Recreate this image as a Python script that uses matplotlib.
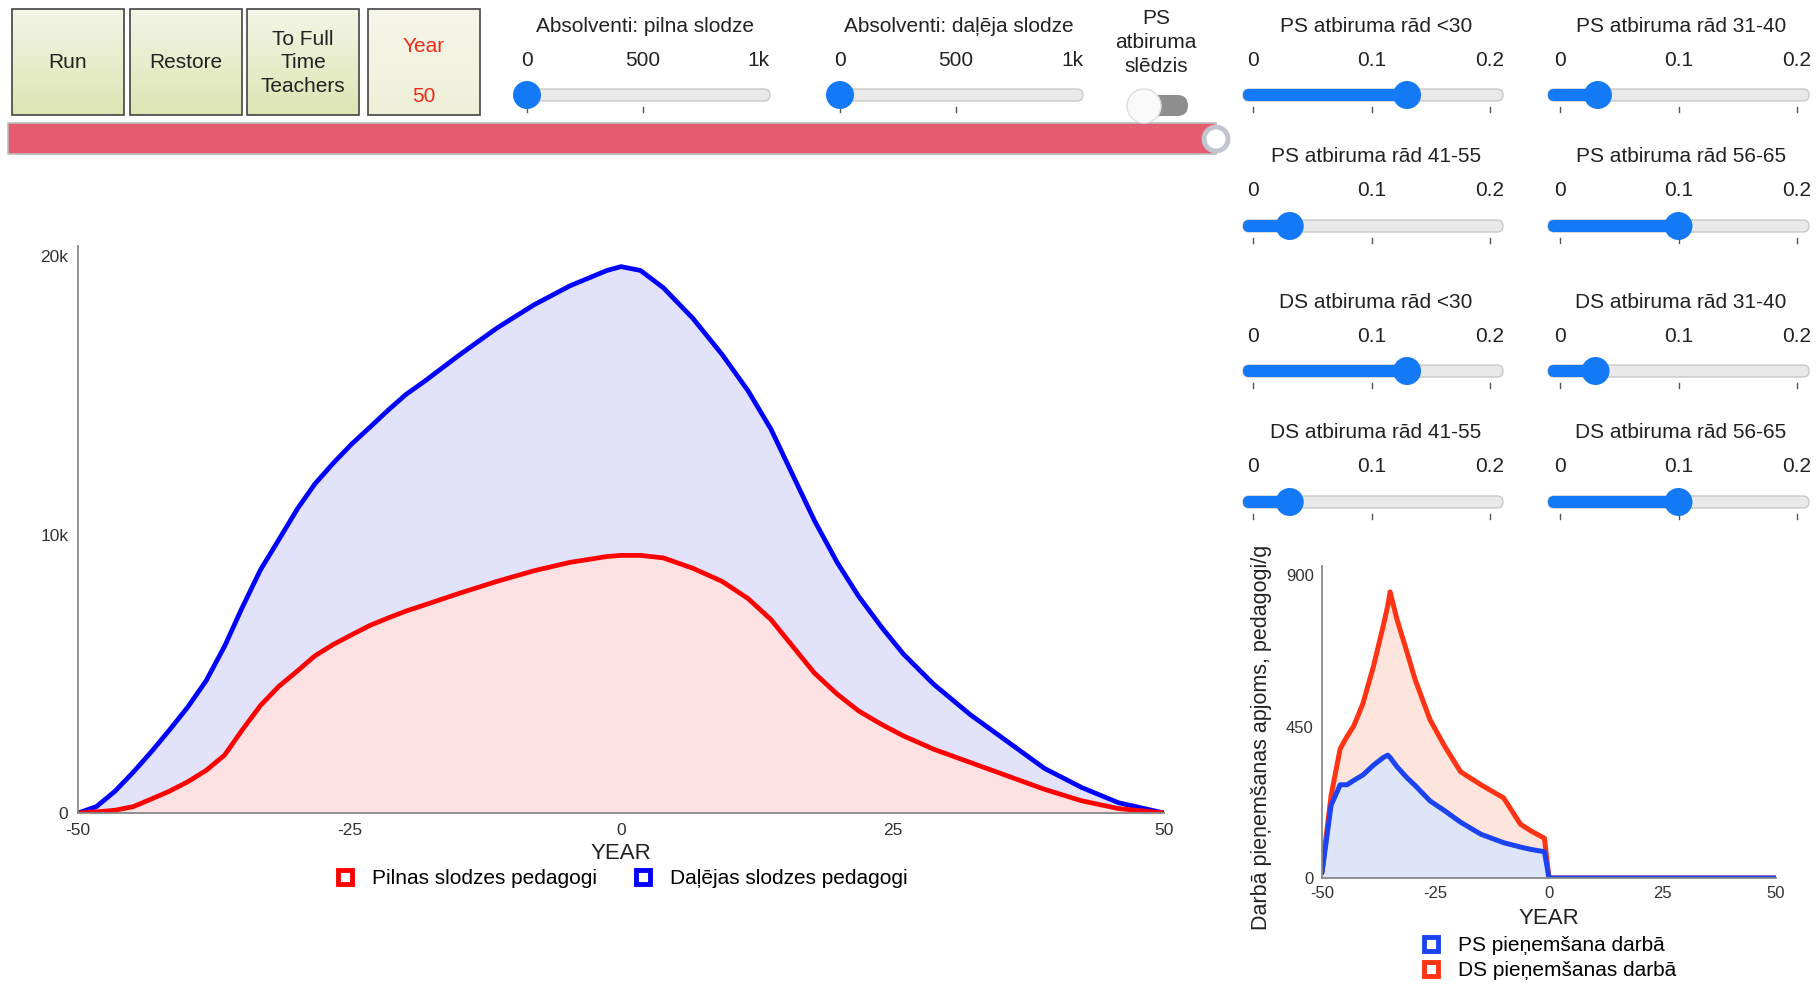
import numpy as np
import matplotlib
matplotlib.use("Agg")
import matplotlib.pyplot as plt
from matplotlib.patches import Rectangle, FancyBboxPatch, Circle
from matplotlib.lines import Line2D
from matplotlib.colors import LinearSegmentedColormap

plt.rcParams['font.family'] = ['Liberation Sans', 'DejaVu Sans']
plt.rcParams['axes.unicode_minus'] = False

# main chart data (teachers by year)
years = [-50, -48.3, -46.6, -44.9, -43.2, -41.6, -39.9, -38.2, -36.5, -34.9, -33.2, -31.5,
         -29.8, -28.2, -26.5, -24.8, -23.1, -21.4, -19.8, -18.1, -14.8, -11.4, -8.0, -4.7,
         -1.3, 0, 1.8, 3.9, 6.6, 9.3, 11.7, 13.8, 15.8, 17.8, 19.9, 21.9, 24.0, 26.0, 28.8,
         32.2, 35.6, 39.0, 42.4, 45.8, 50]
part_time = [0, 230, 780, 1470, 2220, 2970, 3800, 4750, 5990, 7360, 8730, 9820,
             10920, 11810, 12560, 13250, 13860, 14480, 15030, 15500, 16470, 17420, 18250, 18930,
             19480, 19620, 19480, 18860, 17770, 16470, 15160, 13790, 12150, 10510, 9000, 7770, 6670, 5710, 4620,
             3520, 2560, 1600, 920, 370, 0]
full_time = [0, 40, 100, 230, 510, 780, 1120, 1530, 2080, 2970, 3860, 4550,
             5100, 5640, 6050, 6400, 6740, 7010, 7250, 7470, 7900, 8320, 8700, 9000,
             9210, 9250, 9250, 9160, 8790, 8320, 7700, 6950, 5990, 5030, 4270, 3660, 3180, 2770, 2290,
             1810, 1330, 850, 440, 160, 0]

# hiring chart data
hire_years = [-50, -48, -46, -44.5, -43, -41, -38.7, -36.5, -35.5, -35, -33.5, -31.3, -29.5,
              -26.2, -23, -19.5, -15, -10, -6.3, -4, -1, 0, 50]
ps_hire = [15, 216, 277, 277, 290, 306, 335, 358, 365, 358, 331, 298, 275,
           229, 200, 166, 130, 105, 92, 85, 78, 0, 0]
ds_hire = [20, 245, 384, 420, 452, 518, 627, 750, 810, 850, 769, 672, 590,
           470, 392, 316, 277, 238, 160, 140, 118, 0, 0]

# controls
buttons = ["Run", "Restore", "To Full\nTime\nTeachers"]
year_value = 50
grad_titles = ["Absolventi: pilna slodze", "Absolventi: daļēja slodze"]
grad_values = [0, 0]
rate_titles = ["PS atbiruma rād <30", "PS atbiruma rād 31-40",
               "PS atbiruma rād 41-55", "PS atbiruma rād 56-65",
               "DS atbiruma rād <30", "DS atbiruma rād 31-40",
               "DS atbiruma rād 41-55", "DS atbiruma rād 56-65"]
rate_values = [0.13, 0.032, 0.031, 0.10, 0.13, 0.030, 0.031, 0.10]

W, H = 1816, 985
fig = plt.figure(figsize=(W / 100, H / 100), dpi=100)
fig.patch.set_facecolor('white')

ui = fig.add_axes([0, 0, 1, 1])
ui.set_xlim(0, W)
ui.set_ylim(H, 0)
ui.axis('off')
ui.set_zorder(0)

KNOB = '#1479f4'
TXT = '#222222'
FS = 15

# buttons
btn_cmap = LinearSegmentedColormap.from_list('btn', ['#f3f5e6', '#dde5b3'])
yr_cmap = LinearSegmentedColormap.from_list('yr', ['#f6f6ea', '#eff0d8'])
grad = np.linspace(0, 1, 50).reshape(-1, 1)
bx = [12, 130, 247, 368]
for i in range(4):
    x0, x1, y0, y1 = bx[i], bx[i] + 112, 9, 115
    ui.imshow(grad, cmap=btn_cmap if i < 3 else yr_cmap, extent=(x0, x1, y1, y0),
              origin='upper', aspect='auto', zorder=1)
    ui.add_patch(Rectangle((x0, y0), x1 - x0, y1 - y0, fill=False, ec='#444444', lw=1.2, zorder=2))
    if i < 3:
        ui.text((x0 + x1) / 2, 63, buttons[i], ha='center', va='center', fontsize=FS,
                color=TXT, linespacing=1.32, zorder=3)
ui.text(424, 44, "Year", ha='center', va='center_baseline', fontsize=FS, color='#ee2a1b', zorder=3)
ui.text(424, 95, str(year_value), ha='center', va='center_baseline', fontsize=FS, color='#ee2a1b', zorder=3)
ui.set_xlim(0, W)
ui.set_ylim(H, 0)

# progress bar
ui.add_patch(Rectangle((8, 123), 1208, 31, fc='#e55c70', ec='#bdbdbd', lw=1.2, zorder=2))
ui.add_patch(Circle((1216, 139), 12, fc='white', ec='#c2c5cf', lw=3.5, zorder=3))


def slider(title, xc, ty, labels, t0, t1, tx0, tx1, y, frac, tick_list):
    ui.text(xc, ty, title, ha='center', va='center_baseline', fontsize=FS, color=TXT)
    for lab, lx in zip(labels, [t0, (t0 + t1) / 2, t1]):
        ui.text(lx, ty + 34, lab, ha='center', va='center_baseline', fontsize=FS, color=TXT)
    ui.add_patch(FancyBboxPatch((tx0, y - 6), tx1 - tx0, 12,
                                boxstyle='round,pad=0,rounding_size=6',
                                fc='#e9e9e9', ec='#c9c9c9', lw=1, zorder=2))
    kx = t0 + frac * (t1 - t0)
    ui.add_patch(FancyBboxPatch((tx0, y - 6), kx - tx0, 12,
                                boxstyle='round,pad=0,rounding_size=6',
                                fc=KNOB, ec='none', zorder=3))
    for f in tick_list:
        xx = t0 + f * (t1 - t0)
        ui.plot([xx, xx], [y + 12, y + 17], color='#555555', lw=1, zorder=1)
    ui.add_patch(Circle((kx, y), 14, fc=KNOB, ec='none', zorder=4))


# graduate sliders
slider(grad_titles[0], 645, 24, ["0", "500", "1k"], 527, 758, 515, 770, 95,
       grad_values[0] / 1000, [0, 0.5])
slider(grad_titles[1], 959, 24, ["0", "500", "1k"], 840, 1072, 828, 1083, 95,
       grad_values[1] / 1000, [0, 0.5])

# toggle
ui.text(1156, 16, "PS", ha='center', va='center_baseline', fontsize=FS, color=TXT)
ui.text(1156, 40, "atbiruma", ha='center', va='center_baseline', fontsize=FS, color=TXT)
ui.text(1156, 65, "slēdzis", ha='center', va='center_baseline', fontsize=FS, color=TXT)
ui.add_patch(FancyBboxPatch((1130, 95), 58, 21, boxstyle='round,pad=0,rounding_size=10.5',
                            fc='#8e8e8e', ec='none', zorder=2))
ui.add_patch(Circle((1144, 106), 17, fc='#fafafa', ec='#dddddd', lw=1, zorder=3))

# attrition sliders
col_x = [(1253, 1490, 1243, 1503, 1376), (1560, 1797, 1548, 1809, 1681)]
row_y = [24, 155, 300, 431]
for k, (title, val) in enumerate(zip(rate_titles, rate_values)):
    r, c = k // 2, k % 2
    t0, t1, tx0, tx1, xc = col_x[c]
    slider(title, xc, row_y[r], ["0", "0.1", "0.2"], t0, t1, tx0, tx1, row_y[r] + 71,
           val / 0.2, [0, 0.5, 1])

# main chart
ax = fig.add_axes([78 / W, 1 - 813 / H, (1164 - 78) / W, (813 - 246) / H])
ax.fill_between(years, full_time, part_time, color='#e2e2fb', lw=0)
ax.fill_between(years, 0, full_time, color='#fde1e3', lw=0)
ax.plot(years, part_time, color='#0000ff', lw=3.4, solid_capstyle='round', solid_joinstyle='round')
ax.plot(years, full_time, color='#ff0000', lw=3.4, solid_capstyle='round', solid_joinstyle='round')
ax.set_xlim(-50, 50)
ax.set_ylim(0, 20360)
ax.set_xticks([-50, -25, 0, 25, 50])
ax.set_yticks([0, 10000, 20000])
ax.set_yticklabels(["0", "10k", "20k"])
ax.tick_params(length=0, labelsize=12.5, colors='#333333', pad=7)
for s in ['top', 'right']:
    ax.spines[s].set_visible(False)
for s in ['left', 'bottom']:
    ax.spines[s].set_color('#888888')
    ax.spines[s].set_linewidth(1.3)
ax.set_xlabel("YEAR", fontsize=16, color=TXT, labelpad=4)
ax.patch.set_alpha(0)

h_main = [Line2D([], [], ls='none', marker='s', ms=10, mfc='white', mec='#ff0000', mew=3.5),
          Line2D([], [], ls='none', marker='s', ms=10, mfc='white', mec='#0000ff', mew=3.5)]
fig.legend(h_main, ["Pilnas slodzes pedagogi", "Daļējas slodzes pedagogi"],
           loc='center', bbox_to_anchor=(620 / W, 1 - 879 / H), ncol=2, frameon=False,
           fontsize=FS, handlelength=1.2, handletextpad=0.7, columnspacing=1.6)

# hiring chart
ax2 = fig.add_axes([1322 / W, 1 - 878 / H, (1776 - 1322) / W, (878 - 566) / H])
ax2.fill_between(hire_years, ps_hire, ds_hire, color='#fde5dd', lw=0)
ax2.fill_between(hire_years, 0, ps_hire, color='#dfe5f8', lw=0)
ax2.plot(hire_years, ds_hire, color='#ff3414', lw=3.6, solid_capstyle='round')
ax2.plot(hire_years, ps_hire, color='#1c43f2', lw=3.6, solid_capstyle='round')
ax2.set_xlim(-50, 50)
ax2.set_ylim(0, 927)
ax2.set_xticks([-50, -25, 0, 25, 50])
ax2.set_yticks([0, 450, 900])
ax2.tick_params(length=0, labelsize=12, colors='#333333', pad=6)
for s in ['top', 'right']:
    ax2.spines[s].set_visible(False)
for s in ['left', 'bottom']:
    ax2.spines[s].set_color('#888888')
    ax2.spines[s].set_linewidth(1.3)
ax2.set_xlabel("YEAR", fontsize=16, color=TXT, labelpad=5)
ax2.patch.set_alpha(0)

ylab = ui.text(1262, 930, "Darbā pieņemšanas apjoms, pedagogi/gadā", rotation=90,
               ha='center', va='bottom', fontsize=15.5, color=TXT)
clip = Rectangle((1200, 545), 120, 440, transform=ui.transData, fill=False, visible=False)
ui.add_patch(clip)
ylab.set_clip_on(True)
ylab.set_clip_path(clip)

h_hire = [Line2D([], [], ls='none', marker='s', ms=10, mfc='white', mec='#1c43f2', mew=3.5),
          Line2D([], [], ls='none', marker='s', ms=10, mfc='white', mec='#ff3414', mew=3.5)]
fig.legend(h_hire, ["PS pieņemšana darbā", "DS pieņemšanas darbā"],
           loc='center left', bbox_to_anchor=(1400 / W, 1 - 958 / H), ncol=1, frameon=False,
           fontsize=FS, handlelength=1.2, handletextpad=0.7, labelspacing=0.3)

fig.savefig("out.png", dpi=100)
